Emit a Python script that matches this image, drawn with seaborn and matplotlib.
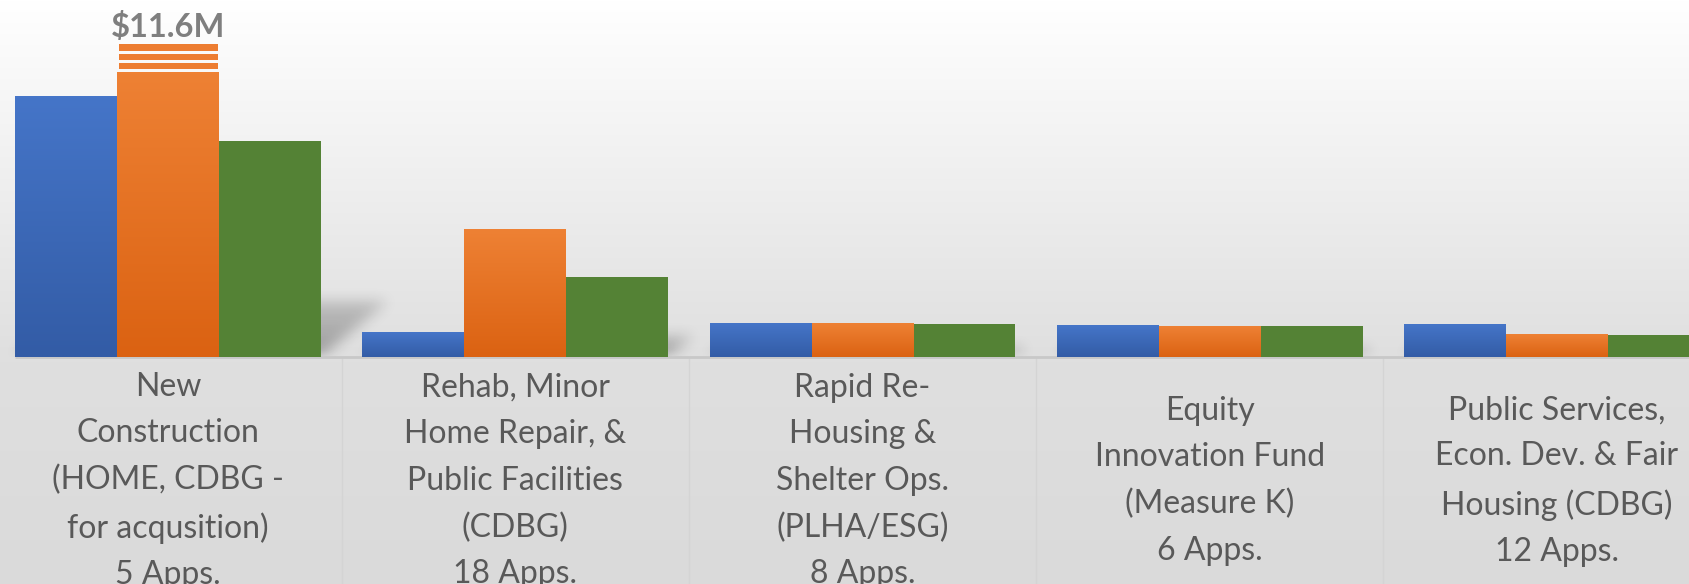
import numpy as np
import pandas as pd
import matplotlib
matplotlib.use("Agg")
import matplotlib.pyplot as plt
from matplotlib.patches import Rectangle
from matplotlib.colors import to_rgb
import seaborn as sns

# ---------------- data ----------------
categories = [
    "New\nConstruction\n(HOME, CDBG -\nfor acqusition)",
    "Rehab, Minor\nHome Repair, &\nPublic Facilities\n(CDBG)",
    "Rapid Re-\nHousing &\nShelter Ops.\n(PLHA/ESG)",
    "Equity\nInnovation Fund\n(Measure K)",
    "Public Services,\nEcon. Dev. & Fair\nHousing (CDBG)",
]
apps = [5, 18, 8, 6, 12]
series = ["Series 1", "Series 2", "Series 3"]
series1_vals = [5.22, 0.50, 0.68, 0.64, 0.66]   # $M (blue)
series2_vals = [11.6, 2.56, 0.68, 0.62, 0.46]   # $M (orange)
series3_vals = [4.32, 1.61, 0.67, 0.62, 0.44]   # $M (green)
axis_break = 5.70                                 # values above this are drawn broken

# ---------------- style ----------------
colors = {"Series 1": "#4472c4", "Series 2": "#ed7d31", "Series 3": "#548235"}
grad = {"Series 1": ("#4575c8", "#335ca6"), "Series 2": ("#ee8134", "#db6212")}
W_PX, H_PX = 1690, 584
XLIM = (-0.484, 4.383)
YLIM = (-4.54, 7.14)

sns.set_theme(style="white")
plt.rcParams["font.family"] = ["Lato", "DejaVu Sans"]

fig = plt.figure(figsize=(W_PX / 100, H_PX / 100), dpi=100)
ax = fig.add_axes([0, 0, 1, 1])
ax.set_facecolor("none")

labels = [f"{c}\n{a} Apps." for c, a in zip(categories, apps)]
rows = []
for s, vals in zip(series, [series1_vals, series2_vals, series3_vals]):
    for lab, v in zip(labels, vals):
        rows.append({"category": lab, "series": s, "value": v,
                     "shown": min(v, axis_break)})
df = pd.DataFrame(rows)

sns.barplot(data=df, x="category", y="shown", hue="series", order=labels,
            hue_order=series, palette=colors, saturation=1, width=0.881,
            dodge=True, legend=False, errorbar=None, linewidth=0,
            edgecolor="none", ax=ax, zorder=3)

ax.set_xlim(*XLIM)
ax.set_ylim(*YLIM)
px_per_x = W_PX / (XLIM[1] - XLIM[0])
px_per_y = H_PX / (YLIM[1] - YLIM[0])

# background gradient
bg_levels = np.array([1.0, 0.875, 0.855])
bg_pos = np.array([0.0, YLIM[1] / (YLIM[1] - YLIM[0]), 1.0])
t = np.linspace(0, 1, 400)
g = np.interp(t, bg_pos, bg_levels)
bg = np.repeat(g[:, None, None], 3, axis=2)
ax.imshow(bg, extent=(XLIM[0], XLIM[1], YLIM[0], YLIM[1]), origin="upper",
          aspect="auto", zorder=0, interpolation="bilinear")

# bar gradients + collect bars
bars = []
for p in list(ax.patches):
    fc = to_rgb(p.get_facecolor())
    x0, y0 = p.get_x(), p.get_y()
    w, h = p.get_width(), p.get_height()
    if h <= 0:
        continue
    s = min(series, key=lambda k: np.sum((np.array(to_rgb(colors[k])) - fc) ** 2))
    bars.append((x0, x0 + w, h, s, p))
    if s in grad:
        top, bot = np.array(to_rgb(grad[s][0])), np.array(to_rgb(grad[s][1]))
        tt = np.linspace(0, 1, 64)[:, None]
        img = (top * (1 - tt) + bot * tt)[:, None, :]
        ax.imshow(img, extent=(x0, x0 + w, y0, y0 + h), origin="upper",
                  aspect="auto", zorder=3.5, interpolation="bilinear")

# perspective drop shadows
Hs = int(round(YLIM[1] * px_per_y))
hp = (Hs - np.arange(Hs) - 0.5)[:, None]
cols = (np.arange(W_PX) + 0.5)[None, :]
mask = np.zeros((Hs, W_PX))
SH_H, SH_SLANT = 0.26, 1.2
for x0, x1, h, s, p in bars:
    p0 = (x0 - XLIM[0]) * px_per_x
    p1 = (x1 - XLIM[0]) * px_per_x
    hh = h * px_per_y * SH_H
    cond = (hp <= hh) & (cols >= p0 + SH_SLANT * hp) & (cols <= p1 + SH_SLANT * hp)
    fade = 1.0 - 0.45 * np.clip(hp / max(hh, 1), 0, 1)
    mask = np.maximum(mask, cond * fade)


def box_blur(a, r, axis):
    a = np.moveaxis(a, axis, -1)
    pad = [(0, 0)] * (a.ndim - 1) + [(r + 1, r)]
    c = np.cumsum(np.pad(a, pad), axis=-1)
    out = (c[..., 2 * r + 1:] - c[..., :-2 * r - 1]) / (2 * r + 1)
    return np.moveaxis(out, -1, axis)


for _ in range(3):
    mask = box_blur(mask, 6, 0)
    mask = box_blur(mask, 6, 1)
shadow = np.zeros((Hs, W_PX, 4))
shadow[..., 3] = mask * 0.30
ax.imshow(shadow, extent=(XLIM[0], XLIM[1], 0, YLIM[1]), origin="upper",
          aspect="auto", zorder=2, interpolation="bilinear")

# baseline and category dividers
ax.hlines(0, -0.881 / 2, XLIM[1], color="#c8c8c8", lw=2, zorder=2.5)
ax.vlines(np.arange(len(labels) - 1) + 0.5, YLIM[0], 0, color="#d4d4d4", lw=1.0, zorder=1)

# category labels
for i, lab in enumerate(labels):
    ax.text(i, -124 / px_per_y, lab, ha="center", va="center", multialignment="center",
            fontsize=23, color="#595959", linespacing=1.68, zorder=5)

# broken bar marks + value label
for x0, x1, h, s, p in bars:
    vals = df[(df["series"] == s)]["value"].to_numpy()
    shown = df[(df["series"] == s)]["shown"].to_numpy()
    for v, sh in zip(vals, shown):
        if v > sh and abs(sh - h) < 1e-9:
            inset = 1.5 / px_per_x
            for a, b in [(3, 9), (12, 18), (21, 28)]:
                ax.add_patch(Rectangle((x0 + inset, h + a / px_per_y), x1 - x0 - 2 * inset,
                                       (b - a) / px_per_y, facecolor=colors[s],
                                       edgecolor="none", zorder=3))
            ax.text((x0 + x1) / 2, h + 45 / px_per_y, f"${v:.1f}M", ha="center",
                    va="center", fontsize=23.5, fontweight="bold", color="#7f7f7f", zorder=5)
            break

ax.set_xlim(*XLIM)
ax.set_ylim(*YLIM)
ax.axis("off")
fig.savefig("out.png", dpi=100)
